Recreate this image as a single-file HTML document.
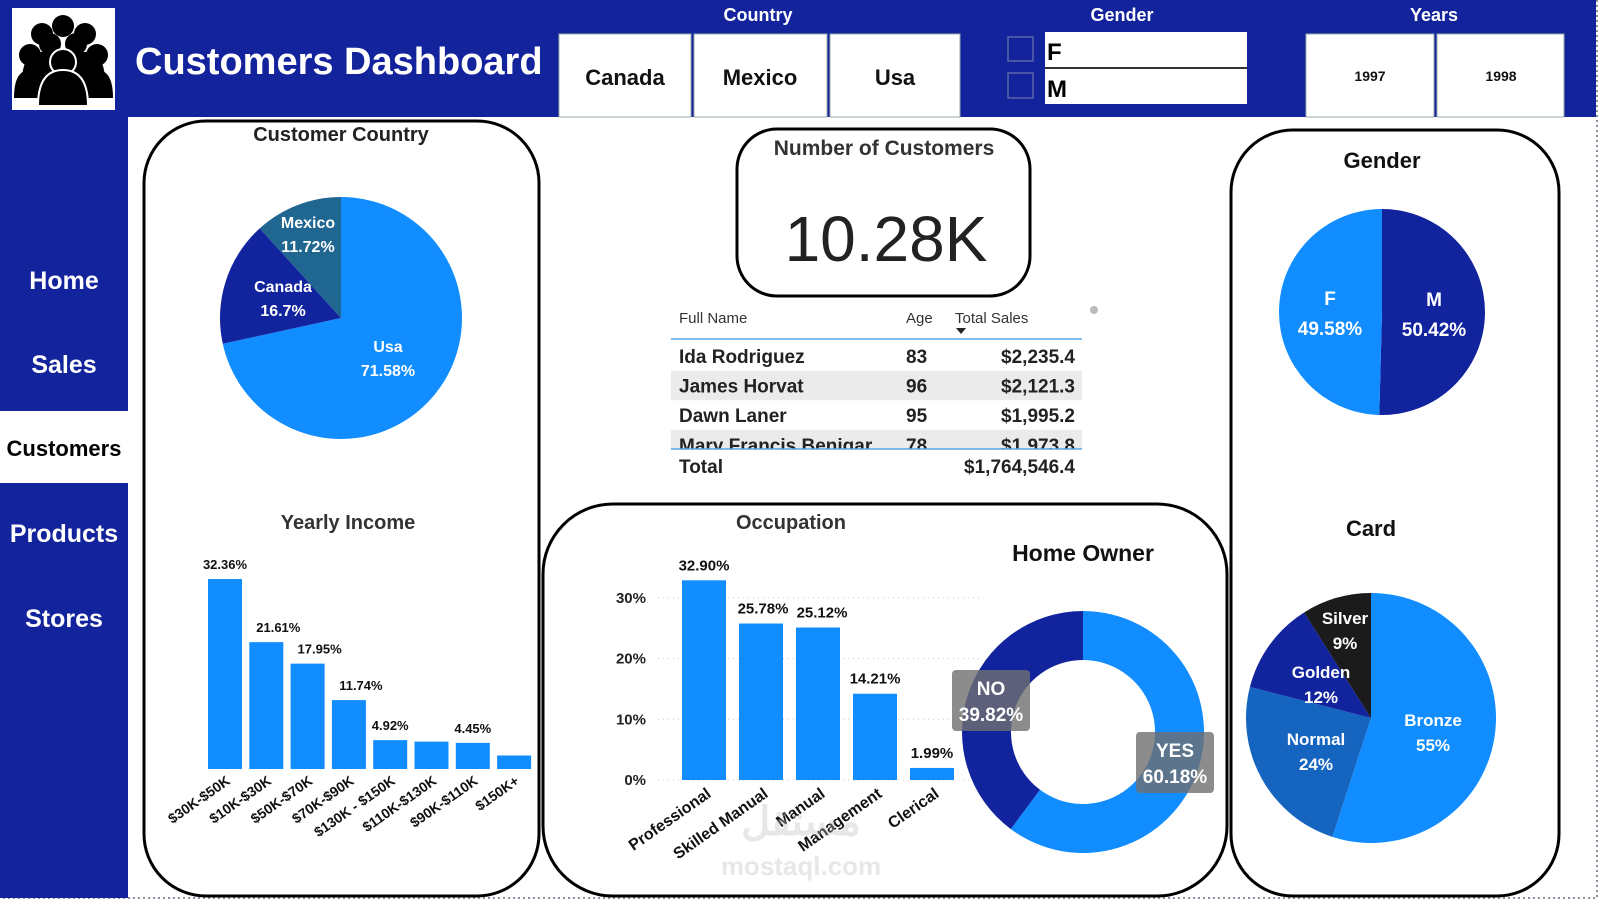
<!DOCTYPE html>
<html><head><meta charset="utf-8">
<style>
html,body{margin:0;padding:0;background:#fff;}
body{width:1600px;height:901px;overflow:hidden;position:relative;font-family:"Liberation Sans",sans-serif;}
svg{position:absolute;left:0;top:0;}
text{font-family:"Liberation Sans","Noto Sans CJK SC",sans-serif;}
</style></head><body>
<svg id="dash" width="1600" height="901" viewBox="0 0 1600 901">
  <defs><clipPath id="rowClip"><rect x="660" y="340" width="430" height="109"/></clipPath></defs>
  <rect x="1" y="1" width="1596" height="897" fill="none" stroke="#8a8fa0" stroke-width="2" stroke-dasharray="2,3"/>
  <rect x="0" y="0" width="1596" height="117" fill="#13239c"/>
  <rect x="0" y="117" width="128" height="781" fill="#13239c"/>
  <g>
    <rect x="12" y="8" width="103" height="102" fill="#fff"/>
    <g fill="#000">
      <circle cx="42" cy="34" r="11"/><circle cx="85" cy="34" r="11"/>
      <path d="M22 82 q0-30 20-30 q20 0 20 30z"/><path d="M65 82 q0-30 20-30 q20 0 20 30z"/>
      <circle cx="30" cy="55" r="11"/><circle cx="97" cy="55" r="11"/>
      <path d="M14 98 q0-28 16-28 q16 0 16 28z"/><path d="M81 98 q0-28 16-28 q16 0 16 28z"/>
      <circle cx="63" cy="26" r="11"/><circle cx="50" cy="44" r="11"/><circle cx="76" cy="44" r="11"/>
      <circle cx="63" cy="62" r="13" stroke="#fff" stroke-width="2"/>
      <path d="M38 106 q0-36 25-36 q25 0 25 36z" stroke="#fff" stroke-width="2"/>
    </g>
  </g>
  <text x="135" y="74" font-size="38" font-weight="bold" fill="#fff">Customers Dashboard</text>

  <text x="758" y="21" font-size="18" font-weight="bold" fill="#fff" text-anchor="middle">Country</text>
  <g><rect x="559" y="34" width="132" height="83" fill="#fff" stroke="#9aa" /><text x="625" y="85" font-size="22" font-weight="bold" text-anchor="middle" fill="#111">Canada</text></g>
  <g><rect x="694" y="34" width="133" height="83" fill="#fff" stroke="#9aa"/><text x="760" y="85" font-size="22" font-weight="bold" text-anchor="middle" fill="#111">Mexico</text></g>
  <g><rect x="830" y="34" width="130" height="83" fill="#fff" stroke="#9aa"/><text x="895" y="85" font-size="22" font-weight="bold" text-anchor="middle" fill="#111">Usa</text></g>

  <text x="1122" y="21" font-size="18" font-weight="bold" fill="#fff" text-anchor="middle">Gender</text>
  <rect x="1008" y="37" width="25" height="24" fill="none" stroke="#5b64a8" stroke-width="1.5"/>
  <rect x="1008" y="73" width="25" height="25" fill="none" stroke="#5b64a8" stroke-width="1.5"/>
  <g><rect x="1045" y="32" width="202" height="35" fill="#fff"/><text x="1047" y="60" font-size="24" font-weight="bold" fill="#000">F</text></g>
  <rect x="1045" y="67" width="202" height="2" fill="#333"/>
  <g><rect x="1045" y="69" width="202" height="35" fill="#fff"/><text x="1047" y="97" font-size="24" font-weight="bold" fill="#000">M</text></g>

  <text x="1434" y="21" font-size="18" font-weight="bold" fill="#fff" text-anchor="middle">Years</text>
  <g><rect x="1306" y="34" width="128" height="83" fill="#fff" stroke="#9aa"/><text x="1370" y="81" font-size="14" font-weight="bold" text-anchor="middle" fill="#111">1997</text></g>
  <g><rect x="1437" y="34" width="127" height="83" fill="#fff" stroke="#9aa"/><text x="1501" y="81" font-size="14" font-weight="bold" text-anchor="middle" fill="#111">1998</text></g>

  <text x="64" y="289" font-size="25" font-weight="bold" fill="#fff" text-anchor="middle">Home</text>
  <text x="64" y="373" font-size="25" font-weight="bold" fill="#fff" text-anchor="middle">Sales</text>
  <rect x="0" y="411" width="128" height="72" fill="#fff"/>
  <text x="64" y="456" font-size="22" font-weight="bold" fill="#000" text-anchor="middle">Customers</text>
  <text x="64" y="542" font-size="25" font-weight="bold" fill="#fff" text-anchor="middle">Products</text>
  <text x="64" y="627" font-size="25" font-weight="bold" fill="#fff" text-anchor="middle">Stores</text>

  <rect x="144" y="121" width="395" height="775" rx="62" fill="none" stroke="#000" stroke-width="3"/>
  <rect x="737" y="129" width="293" height="167" rx="40" fill="none" stroke="#000" stroke-width="3"/>
  <rect x="543" y="504" width="684" height="392" rx="70" fill="none" stroke="#000" stroke-width="3"/>
  <rect x="1231" y="130" width="328" height="766" rx="62" fill="none" stroke="#000" stroke-width="3"/>

  <text x="341" y="141" font-size="20" font-weight="bold" fill="#222" text-anchor="middle">Customer Country</text>
  <text x="348" y="529" font-size="20" font-weight="bold" fill="#333" text-anchor="middle">Yearly Income</text>
  <text x="884" y="155" font-size="21" font-weight="bold" fill="#333" text-anchor="middle">Number of Customers</text>
  <text x="886" y="261" font-size="64" fill="#222" text-anchor="middle">10.28K</text>
  <text x="791" y="529" font-size="20" font-weight="bold" fill="#333" text-anchor="middle">Occupation</text>
  <text x="1083" y="561" font-size="23" font-weight="bold" fill="#111" text-anchor="middle">Home Owner</text>
  <text x="1382" y="168" font-size="22" font-weight="bold" fill="#111" text-anchor="middle">Gender</text>
  <text x="1371" y="536" font-size="22" font-weight="bold" fill="#111" text-anchor="middle">Card</text>

  <g>
    <text x="679" y="323" font-size="15" fill="#333">Full Name</text>
    <text x="906" y="323" font-size="15" fill="#333">Age</text>
    <text x="955" y="323" font-size="15" fill="#333">Total Sales</text>
    <path d="M956 328 l10 0 l-5 6z" fill="#222"/>
    <circle cx="1094" cy="310" r="4" fill="#bbb"/>
    <line x1="671" y1="339" x2="1082" y2="339" stroke="#5aa3e6" stroke-width="1.5"/>
    <g id="tableRows" clip-path="url(#rowClip)"></g>
    <line x1="671" y1="449" x2="1082" y2="449" stroke="#5aa3e6" stroke-width="1.5"/>
    <text x="679" y="473" font-size="19" font-weight="bold" fill="#222">Total</text>
    <text x="1075" y="473" font-size="19" font-weight="bold" fill="#222" text-anchor="end">$1,764,546.4</text>
  </g>

  <g id="countryPie"></g>
  <g id="incomeChart"></g>
  <g id="occChart"></g>
  <g id="homeDonut"></g>
  <g id="genderPie"></g>
  <g id="cardPie"></g>

  <g opacity="0.35">
    <text x="801" y="835" font-size="40" font-weight="bold" fill="#bbb" text-anchor="middle">مستقل</text>
    <text x="801" y="875" font-size="26" font-weight="bold" fill="#bbb" text-anchor="middle">mostaql.com</text>
  </g>
</svg>
<script>
const NS='http://www.w3.org/2000/svg';
const tableNames=['Ida Rodriguez','James Horvat','Dawn Laner','Mary Francis Benigar'];
const tableAges=[83,96,95,78];
const tableSales=['$2,235.4','$2,121.3','$1,995.2','$1,973.8'];

const countryCats=['Usa','Canada','Mexico'];
const countryVals=[71.58,16.7,11.72];
const countryLabels=['71.58%','16.7%','11.72%'];

const incomeCats=['$30K-$50K','$10K-$30K','$50K-$70K','$70K-$90K','$130K - $150K','$110K-$130K','$90K-$110K','$150K+'];
const incomeVals=[32.36,21.61,17.95,11.74,4.92,4.67,4.45,2.30];
const incomeLabels=['32.36%','21.61%','17.95%','11.74%','4.92%','','4.45%',''];

const occCats=['Professional','Skilled Manual','Manual','Management','Clerical'];
const occVals=[32.90,25.78,25.12,14.21,1.99];
const occLabels=['32.90%','25.78%','25.12%','14.21%','1.99%'];
const occTicks=[0,10,20,30];

const homeCats=['YES','NO'];
const homeVals=[60.18,39.82];
const homeLabels=['60.18%','39.82%'];

const genderCats=['M','F'];
const genderVals=[50.42,49.58];
const genderLabels=['50.42%','49.58%'];

const cardCats=['Bronze','Normal','Golden','Silver'];
const cardVals=[55,24,12,9];
const cardLabels=['55%','24%','12%','9%'];

function el(tag,attrs,parent,txt){const e=document.createElementNS(NS,tag);for(const k in attrs)e.setAttribute(k,attrs[k]);if(txt!==undefined)e.textContent=txt;parent.appendChild(e);return e;}
function pt(cx,cy,r,a){return [cx+r*Math.sin(a),cy-r*Math.cos(a)];}
function arcPath(cx,cy,r,ri,a0,a1){
  const big=(a1-a0)>Math.PI?1:0;const p0=pt(cx,cy,r,a0),p1=pt(cx,cy,r,a1);
  if(!ri)return `M${cx},${cy}L${p0[0]},${p0[1]}A${r},${r} 0 ${big} 1 ${p1[0]},${p1[1]}Z`;
  const q0=pt(cx,cy,ri,a1),q1=pt(cx,cy,ri,a0);
  return `M${p0[0]},${p0[1]}A${r},${r} 0 ${big} 1 ${p1[0]},${p1[1]}L${q0[0]},${q0[1]}A${ri},${ri} 0 ${big} 0 ${q1[0]},${q1[1]}Z`;
}
function pie(g,cx,cy,r,ri,vals,colors,names){
  const tot=vals.reduce((a,b)=>a+b,0);let a=0;
  vals.forEach((v,i)=>{
    const sweep=v/tot*2*Math.PI;const a0=a,a1=a+sweep;a+=sweep;
    const p=el('path',{d:arcPath(cx,cy,r,ri,a0,a1),fill:colors[i]},g);
    
    
  });
}
const tr=document.getElementById('tableRows');
tableNames.forEach((n,i)=>{
  const y=341+i*29.6;
  if(i%2===1)el('rect',{x:671,y:y,width:411,height:29.6,fill:'#ebebeb'},tr);
  const t1=el('text',{x:679,y:y+22,'font-size':19,'font-weight':'bold',fill:'#222'},tr,n);
  
  
  const t2=el('text',{x:906,y:y+22,'font-size':19,'font-weight':'bold',fill:'#222'},tr,tableAges[i]);
  
  
  const t3=el('text',{x:1075,y:y+22,'font-size':19,'font-weight':'bold',fill:'#222','text-anchor':'end'},tr,tableSales[i]);
  
  
});

(function(){
  const g=document.getElementById('countryPie');const cx=341,cy=318,r=121;
  const lab=[[388,352],[283,292],[308,228]];
  pie(g,cx,cy,r,0,countryVals,['#118dff','#12239e','#1f6691'],countryCats.map(c=>'country-'+c.toLowerCase()));
  countryCats.forEach((c,i)=>{
    const t=el('text',{x:lab[i][0],y:lab[i][1],'font-size':16,'font-weight':'bold',fill:'#fff','text-anchor':'middle'},g);
    
    
    el('tspan',{x:lab[i][0],dy:0},t,c);el('tspan',{x:lab[i][0],dy:24},t,countryLabels[i]);
  });
})();

(function(){
  const g=document.getElementById('incomeChart');
  const base=769,pxPer=5.87,x0=208,w=34,pitch=41.3;
  const y=v=>base-v*pxPer;
  incomeVals.forEach((v,i)=>{
    const x=x0+i*pitch;
    const b=el('rect',{x:x,y:y(v),width:w,height:base-y(v),fill:'#118dff'},g);
    
    
    if(incomeLabels[i]){const t=el('text',{x:x+w/2+(i>0&&i<4?12:0),y:y(v)-10,'font-size':13,'font-weight':'bold',fill:'#111','text-anchor':'middle'},g,incomeLabels[i]);
      
      }
    const l=el('text',{x:0,y:0,'font-size':14,'font-weight':'bold',fill:'#111','text-anchor':'end',transform:`translate(${x+w/2+6},${base+14}) rotate(-35)`},g,incomeCats[i]);
    
    
  });
})();

(function(){
  const g=document.getElementById('occChart');
  const base=780,pxPer=6.07,x0=682,w=44,pitch=57;
  const y=v=>base-v*pxPer;
  occTicks.forEach(t=>{
    const ln=el('line',{x1:658,x2:980,y1:y(t),y2:y(t),stroke:'#c8c8c8','stroke-dasharray':'1,4'},g);
    
    
    const tx=el('text',{x:646,y:y(t)+5,'font-size':15,'font-weight':'bold',fill:'#222','text-anchor':'end'},g,t+'%');
    
    
  });
  occVals.forEach((v,i)=>{
    const x=x0+i*pitch;
    const b=el('rect',{x:x,y:y(v),width:w,height:base-y(v),fill:'#118dff'},g);
    
    
    const t=el('text',{x:x+w/2+(i==1?2:i==2?4:0),y:y(v)-10,'font-size':15,'font-weight':'bold',fill:'#111','text-anchor':'middle'},g,occLabels[i]);
    
    
    const l=el('text',{x:0,y:0,'font-size':16,'font-weight':'bold',fill:'#111','text-anchor':'end',transform:`translate(${x+w/2+8},${base+16}) rotate(-35)`},g,occCats[i]);
    
    
  });
})();

(function(){
  const g=document.getElementById('homeDonut');const cx=1083,cy=732;
  pie(g,cx,cy,121,72,homeVals,['#118dff','#12239e'],['home-yes','home-no']);
  const boxes=[[1136,732],[952,670]];
  homeCats.forEach((c,i)=>{
    const bx=boxes[i][0],by=boxes[i][1];
    const r=el('rect',{x:bx,y:by,width:78,height:61,rx:4,fill:'#6f6f6f',opacity:0.8},g);
    
    
    const t=el('text',{x:bx+39,y:by+25,'font-size':19,'font-weight':'bold',fill:'#fff','text-anchor':'middle'},g);
    
    
    el('tspan',{x:bx+39,dy:0},t,c);el('tspan',{x:bx+39,dy:26},t,homeLabels[i]);
  });
})();

(function(){
  const g=document.getElementById('genderPie');const cx=1382,cy=312;
  pie(g,cx,cy,103,0,genderVals,['#12239e','#118dff'],['gender-m','gender-f']);
  const lab=[[1434,306],[1330,305]];
  genderCats.forEach((c,i)=>{
    const t=el('text',{x:lab[i][0],y:lab[i][1],'font-size':19,'font-weight':'bold',fill:'#fff','text-anchor':'middle'},g);
    
    
    el('tspan',{x:lab[i][0],dy:0},t,c);el('tspan',{x:lab[i][0],dy:30},t,genderLabels[i]);
  });
})();

(function(){
  const g=document.getElementById('cardPie');const cx=1371,cy=718;
  pie(g,cx,cy,125,0,cardVals,['#118dff','#1565c0','#12239e','#1b1b1b'],cardCats.map(c=>'card-'+c.toLowerCase()));
  const lab=[[1433,726],[1316,745],[1321,678],[1345,624]];
  cardCats.forEach((c,i)=>{
    const t=el('text',{x:lab[i][0],y:lab[i][1],'font-size':17,'font-weight':'bold',fill:'#fff','text-anchor':'middle'},g);
    
    
    el('tspan',{x:lab[i][0],dy:0},t,c);el('tspan',{x:lab[i][0],dy:25},t,cardLabels[i]);
  });
})();
</script>
</body></html>
